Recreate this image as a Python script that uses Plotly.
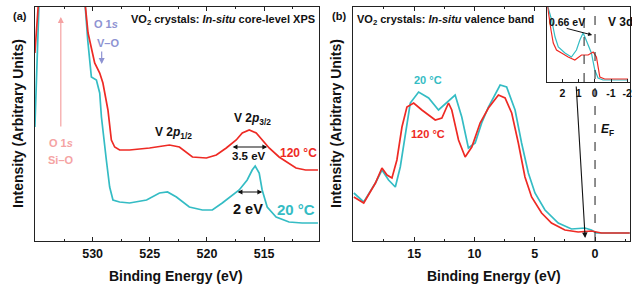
import plotly.graph_objects as go

# ---------------- data ----------------
# Panel (a): core-level XPS, binding energy (eV) vs intensity (arb.)
a_teal_E = [535.05, 534.88, 534.7, 534.61, 532.5, 530.69, 530.43, 530.11, 529.67, 529.38, 529.23,
            528.8, 528.51, 528.22, 527.64, 526.77, 525.28, 524.15, 523.45, 522.67, 521.54, 520.4,
            519.53, 518.66, 517.79, 517.18, 516.48, 516.04, 515.78, 515.43, 515.17, 514.73, 513.95,
            512.82, 511.68, 510.29]
a_teal_I = [114, 181, 234, 261, 600, 241, 201, 164, 161, 148, 124,
            81, 54, 41, 39, 38, 41, 48, 49, 44, 34, 31,
            31, 38, 46, 51, 61, 71, 75, 68, 51, 34, 24,
            19, 18, 18]
a_red_E = [535.05, 534.88, 534.79, 532.5, 530.69, 530.4, 529.82, 529.38, 529.1, 528.66, 528.36,
           528.07, 527.64, 526.77, 525.02, 523.89, 523.28, 522.41, 521.27, 520.05, 519.18, 518.31,
           517.44, 516.91, 516.3, 515.69, 515.17, 514.56, 513.69, 512.82, 512.21, 511.37, 510.29]
a_red_I = [188, 221, 241, 600, 241, 208, 178, 168, 158, 131, 101,
           94, 91, 91, 93, 95, 96, 94, 84, 83, 86, 93,
           101, 108, 111, 108, 101, 93, 84, 78, 73, 71, 71]

# Panel (b): valence band
b_teal_E = [20.0, 19.18, 18.21, 17.67, 17.12, 16.56, 16.15, 15.73, 15.32, 14.63, 13.8, 12.98,
            12.29, 11.6, 11.05, 10.5, 9.94, 9.4, 8.84, 7.87, 7.33, 6.63, 6.09, 5.53, 4.98,
            4.15, 3.05, 1.95, 0.84, 0.3, -0.12, -2.88]
b_teal_I = [48, 39, 58, 71, 61, 54, 74, 108, 138, 149, 143, 131,
            139, 146, 124, 93, 98, 118, 134, 156, 154, 131, 98, 68, 48,
            31, 18, 12, 13, 11, 8, 8]
b_red_E = [20.0, 19.18, 18.21, 17.67, 17.25, 16.84, 16.43, 16.01, 15.6, 15.04, 14.36, 13.25,
           12.7, 12.15, 11.88, 11.32, 10.77, 10.22, 9.53, 8.84, 8.01, 7.46, 6.91, 6.36, 5.81,
           5.26, 4.43, 3.61, 2.5, 1.4, 0.3, -0.53, -2.88]
b_red_I = [44, 38, 58, 73, 66, 63, 81, 114, 134, 138, 131, 121,
           123, 138, 131, 101, 84, 94, 118, 133, 146, 143, 128, 98, 64,
           44, 28, 18, 11, 9, 10, 8, 8]

# Inset: V 3d region near Fermi level
i_teal_E = [2.95, 2.87, 2.66, 2.45, 2.25, 1.84, 1.44, 1.13, 0.92, 0.72, 0.61, 0.41, 0.21,
            0.0, -0.2, -0.51, -2.05]
i_teal_I = [80, 74, 62, 45, 35, 29, 25, 32, 42, 49, 45, 37, 29,
            12, 4, 2, 2]
i_red_E = [2.95, 2.86, 2.7, 2.56, 2.36, 2.05, 1.64, 1.23, 0.82, 0.41, 0.1, -0.1, -0.31,
           -0.61, -2.05]
i_red_I = [80, 69, 52, 39, 32, 29, 25, 22, 27, 27, 30, 25, 5,
           3, 3]

a_ticks = [530, 525, 520, 515]
b_ticks = [15, 10, 5, 0]
b_minor = [17.5, 12.5, 7.5, 2.5, -2.5]
i_ticks = [2, 1, 0, -1, -2]
i_ticklabels = ["2", "1", "0", "-1", "-2"]

# ---------------- style ----------------
W, H = 632, 286
RED = "#ee2a24"
TEAL = "#34bcc4"
LAV = "#8e93d2"
PINK = "#f5a3a3"
AX = "#222222"
FONT = "Liberation Sans, Arial, sans-serif"


def P(x, y):
    return x / W, 1 - y / H


fig = go.Figure()
fig.add_trace(go.Scatter(x=a_teal_E, y=a_teal_I, mode="lines", line=dict(color=TEAL, width=1.7),
                         xaxis="x", yaxis="y", showlegend=False))
fig.add_trace(go.Scatter(x=a_red_E, y=a_red_I, mode="lines", line=dict(color=RED, width=1.7),
                         xaxis="x", yaxis="y", showlegend=False))
fig.add_trace(go.Scatter(x=b_teal_E, y=b_teal_I, mode="lines", line=dict(color=TEAL, width=1.7),
                         xaxis="x2", yaxis="y2", showlegend=False))
fig.add_trace(go.Scatter(x=b_red_E, y=b_red_I, mode="lines", line=dict(color=RED, width=1.7),
                         xaxis="x2", yaxis="y2", showlegend=False))
fig.add_trace(go.Scatter(x=i_teal_E, y=i_teal_I, mode="lines", line=dict(color=TEAL, width=1.2),
                         xaxis="x3", yaxis="y3", showlegend=False))
fig.add_trace(go.Scatter(x=i_red_E, y=i_red_I, mode="lines", line=dict(color=RED, width=1.2),
                         xaxis="x3", yaxis="y3", showlegend=False))

tickfont = dict(family=FONT, size=12.5, color="#111", weight="bold")
common_x = dict(showline=True, linecolor=AX, linewidth=1.3, mirror="ticks", ticks="inside",
                ticklen=4, tickcolor=AX, tickwidth=1.2, showgrid=False, zeroline=False,
                tickfont=tickfont, ticklabelstandoff=1)
common_y = dict(showline=True, linecolor=AX, linewidth=1.3, mirror=True, ticks="",
                showticklabels=False, showgrid=False, zeroline=False)

xa0, ya1 = P(35, 7)
xa1, ya0 = P(320, 241)
xb0, _ = P(354, 7)
xi0, yi1 = P(549, 7)
_, yi0 = P(549, 82)

fig.update_layout(
    width=W, height=H, margin=dict(l=0, r=0, t=0, b=0), autosize=False,
    paper_bgcolor="white", plot_bgcolor="white",
    font=dict(family=FONT, color="#111"),
    xaxis=dict(domain=[xa0, xa1], range=[535.05, 510.2], tickvals=a_ticks, anchor="y",
               minor=dict(dtick=2.5, tick0=0, ticks="inside", ticklen=2, tickcolor=AX, showgrid=False),
               **common_x),
    yaxis=dict(domain=[ya0, ya1], range=[0, 234], anchor="x", **common_y),
    xaxis2=dict(domain=[xb0, 1.0], range=[20.08, -2.9], tickvals=b_ticks, anchor="y2",
                minor=dict(tickvals=b_minor, ticks="inside", ticklen=2, tickcolor=AX, showgrid=False),
                **common_x),
    yaxis2=dict(domain=[ya0, ya1], range=[0, 234], anchor="x2", **common_y),
    xaxis3=dict(domain=[xi0, 1.0], range=[2.93, -2.17], tickvals=i_ticks, ticktext=i_ticklabels,
                anchor="y3", showline=True, linecolor=AX, linewidth=1.2, mirror=True,
                ticks="inside", ticklen=3, tickcolor=AX, showgrid=False, zeroline=False,
                tickfont=dict(family=FONT, size=10.5, color="#111", weight="bold"),
                ticklabelstandoff=1, ticklabeloverflow="allow"),
    yaxis3=dict(domain=[yi0, yi1], range=[0, 75], anchor="x3", **common_y),
)

# dashed lines
fig.add_shape(type="line", xref="x2", yref="y2 domain", x0=0, x1=0, y0=0, y1=1,
              line=dict(color="#333", width=1.1, dash="dash"))
fig.add_shape(type="line", xref="x3", yref="y3 domain", x0=0.66, x1=0.66, y0=0, y1=1,
              line=dict(color="#333", width=1.1, dash="dash"))

ann = []


def text(x, y, s, size=10, color="#111", xanchor="center", angle=0):
    px_, py_ = P(x, y)
    ann.append(dict(x=px_, y=py_, xref="paper", yref="paper", text=s, showarrow=False,
                    xanchor=xanchor, yanchor="middle", textangle=angle,
                    font=dict(family=FONT, size=size, color=color)))


def arrow(xh, yh, xt, yt, color="#111", width=1.2, side="end", head=2, size=1.0):
    px_, py_ = P(xh, yh)
    ann.append(dict(x=px_, y=py_, xref="paper", yref="paper", text="", showarrow=True,
                    ax=xt - xh, ay=yt - yh, arrowhead=head, arrowsize=size, arrowwidth=width,
                    arrowcolor=color, arrowside=side, startarrowhead=head, startarrowsize=size))


# panel (a)
text(20, 16, "<b>(a)</b>", 11)
text(318, 20, "<b>VO<sub>2</sub> crystals: <i>In-situ</i> core-level XPS</b>", 11, xanchor="right")
text(106, 24, "<b>O 1<i>s</i></b>", 11, LAV)
text(108, 43, "<b>V–O</b>", 11, LAV)
arrow(102, 64, 102, 50, LAV, 1.2)
arrow(61, 17, 61, 128, PINK, 1.2)
text(61, 143, "<b>O 1<i>s</i></b>", 11, PINK)
text(61, 160, "<b>Si–O</b>", 11, PINK)
text(174, 133, "<b>V 2<i>p</i><sub>1/2</sub></b>", 12)
text(253, 119, "<b>V 2<i>p</i><sub>3/2</sub></b>", 12)
arrow(268, 147, 232, 147, "#111", 1.2, side="end+start", size=0.8)
text(250, 156, "<b>3.5 eV</b>", 11.5)
text(299, 153, "<b>120 °C</b>", 12, RED)
arrow(263, 192, 237, 192, "#111", 1.2, side="end+start", size=0.8)
text(249, 209, "<b>2 eV</b>", 14.5)
text(297, 209, "<b>20 °C</b>", 15, TEAL)
text(177, 276, "<b>Binding Energy (eV)</b>", 14)
text(18, 123, "<b>Intensity (Arbitrary Units)</b>", 14, angle=-90)

# panel (b)
text(340, 16, "<b>(b)</b>", 11)
text(356, 20, "<b>VO<sub>2</sub> crystals: <i>In-situ</i> valence band</b>", 11, xanchor="left")
text(429, 80, "<b>20 °C</b>", 11, TEAL)
text(429, 134, "<b>120 °C</b>", 11, RED)
arrow(587, 238, 578, 85, "#111", 1.1)
text(609, 130, "<b><i>E</i><sub>F</sub></b>", 12)
text(496, 276, "<b>Binding Energy (eV)</b>", 14)
text(337, 123, "<b>Intensity (Arbitrary Units)</b>", 14, angle=-90)
# inset
text(569, 22, "<b>0.66 eV</b>", 10.5)
arrow(594, 35, 567, 28, "#111", 1.0, size=0.8)
text(608, 22, "<b>V 3d</b>", 12, xanchor="left")

fig.update_layout(annotations=ann)
fig.write_html("out.html", config={"displayModeBar": False},
               post_script="document.body.style.margin='0';document.body.style.overflow='hidden';")
